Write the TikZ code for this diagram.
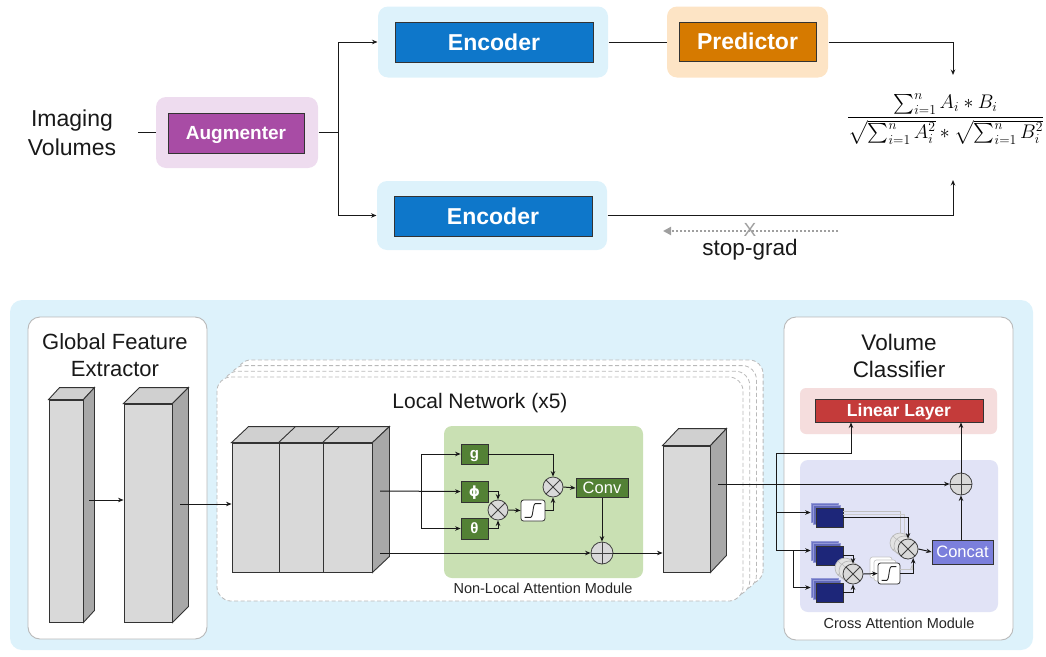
\documentclass[tikz,border=0pt]{standalone}
\usepackage{amsmath}
\usepackage{graphicx}
\usepackage[no-math]{fontspec}
\setmainfont{Liberation Sans}
\newfontfamily\dejavu{DejaVu Sans}
\usetikzlibrary{arrows.meta,calc}
\definecolor{panelblue}{HTML}{DDF2FB}
\definecolor{encblue}{HTML}{0E77CA}
\definecolor{auglight}{HTML}{EEDCEF}
\definecolor{augpurple}{HTML}{A84CA5}
\definecolor{predlight}{HTML}{FDE4C5}
\definecolor{predorange}{HTML}{D67A00}
\definecolor{nlgreen}{HTML}{C9E0B3}
\definecolor{dkgreen}{HTML}{538135}
\definecolor{linpink}{HTML}{F5DDDD}
\definecolor{linred}{HTML}{C43B3A}
\definecolor{calav}{HTML}{E1E3F6}
\definecolor{navy}{HTML}{1D2679}
\definecolor{navyshadow}{HTML}{6C74C6}
\definecolor{navyshadowb}{HTML}{9298D6}
\definecolor{concatblue}{HTML}{7B7FDC}
\definecolor{cubefill}{HTML}{D9D9D9}
\definecolor{cubetop}{HTML}{D0D0D0}
\definecolor{cubeside}{HTML}{A8A8A8}
\newcommand\cubefaces[3]{%
  \filldraw[fill=cubetop,draw=black!80,line width=0.9pt] (#1.north west) -- ++(#2,#3) -- ($(#1.north east)+(#2,#3)$) -- (#1.north east) -- cycle;
  \filldraw[fill=cubeside,draw=black!80,line width=0.9pt] (#1.north east) -- ++(#2,#3) -- ($(#1.south east)+(#2,#3)$) -- (#1.south east) -- cycle;}
\newcommand\cubetopface[3]{%
  \filldraw[fill=cubetop,draw=black!80,line width=0.9pt] (#1.north west) -- ++(#2,#3) -- ($(#1.north east)+(#2,#3)$) -- (#1.north east) -- cycle;}
\newcommand\sigcurve[1]{%
  \draw[line width=0.9pt,black!85] ($(#1.south west)+(4,-4)$) -- ($(#1.south)+(-2.5,-4)$) .. controls ($(#1.south)+(0.5,-4)$) and ($(#1.north)+(-0.5,4)$) .. ($(#1.north)+(2.5,4)$) -- ($(#1.north east)+(-4,4)$);}
\begin{document}
\begin{tikzpicture}[x=1pt,y=-1pt,line width=1pt,
  >={Stealth[length=5.5pt,width=4.5pt]},
  bgbox/.style={rounded corners=10pt,inner sep=0pt,draw=none},
  tbox/.style={draw=black!80,line width=0.9pt,text=white,inner sep=0pt,text height=16.5pt,text depth=0pt,font=\bfseries\fontsize{23}{27}\selectfont},
  panel/.style={draw=gray!55,fill=white,rounded corners=12pt,line width=0.9pt,inner sep=0pt},
  cubefront/.style={draw=black!80,fill=cubefill,inner sep=0pt,line width=0.9pt},
  gbox/.style={draw=black!80,fill=dkgreen,text=white,inner sep=0pt,minimum width=27pt,minimum height=20pt,text height=9pt,text depth=0pt,font=\bfseries\fontsize{15}{15}\selectfont,line width=0.8pt},
  qbox/.style={draw=black!80,fill=navy,inner sep=0pt,minimum width=27pt,minimum height=19pt,line width=0.8pt},
  qshadow/.style={draw=navyshadowb,fill=navyshadow,inner sep=0pt,minimum width=27pt,minimum height=19pt,line width=0.6pt},
  mul/.style={circle,draw=black!75,fill=gray!30,minimum size=20pt,inner sep=0pt,line width=0.8pt,
    path picture={\draw[line width=0.8pt,black!75] (path picture bounding box.north west) -- (path picture bounding box.south east) (path picture bounding box.south west) -- (path picture bounding box.north east);}},
  mulghost/.style={circle,draw=gray!55,fill=gray!22,minimum size=20pt,inner sep=0pt,line width=0.7pt,
    path picture={\draw[line width=0.7pt,gray!55] (path picture bounding box.north west) -- (path picture bounding box.south east) (path picture bounding box.south west) -- (path picture bounding box.north east);}},
  add/.style={circle,draw=black!75,fill=gray!30,minimum size=22pt,inner sep=0pt,line width=0.8pt,
    path picture={\draw[line width=0.8pt,black!75] (path picture bounding box.north) -- (path picture bounding box.south) (path picture bounding box.west) -- (path picture bounding box.east);}},
  sigbox/.style={draw=black!80,fill=white,rounded corners=2.5pt,inner sep=0pt,line width=0.8pt},
  sigghost/.style={draw=gray!45,fill=white,rounded corners=2.5pt,inner sep=0pt,line width=0.7pt},
  lbl/.style={font=\fontsize{22.5}{27}\selectfont,text=black!90,align=center},
  small/.style={font=\fontsize{14.5}{17}\selectfont,text=black!85,anchor=base},
  lnframe/.style={draw=gray!55,dash pattern=on 4pt off 2.5pt,fill=white,rounded corners=14pt,line width=0.8pt},
  conn/.style={line width=1pt,draw=black!90}]
\useasboundingbox (0,0) rectangle (1046,656);

% ---------------- top part ----------------
\node[lbl,font=\fontsize{23}{29}\selectfont] (imgvol) at (72,132.5) {Imaging\\Volumes};
\coordinate (ivout) at (138,132.5);
\node[bgbox,fill=auglight,minimum width=162pt,minimum height=71pt] (augbg) at (237,132.5) {};
\node[tbox,fill=augpurple,minimum width=136pt,minimum height=40pt,text height=13.7pt,font=\bfseries\fontsize{19}{22}\selectfont] (aug) at (236,133) {Augmenter};
\node[bgbox,fill=panelblue,minimum width=230pt,minimum height=71pt] (enc1bg) at (493,42) {};
\node[tbox,fill=encblue,minimum width=198pt,minimum height=40pt] (enc1) at (494,42) {Encoder};
\node[bgbox,fill=predlight,minimum width=161pt,minimum height=71pt] (predbg) at (747.5,42) {};
\node[tbox,fill=predorange,minimum width=137pt,minimum height=39pt] (pred) at (747.5,41.5) {Predictor};
\node[bgbox,fill=panelblue,minimum width=230pt,minimum height=69pt] (enc2bg) at (492,215.5) {};
\node[tbox,fill=encblue,minimum width=198pt,minimum height=40pt] (enc2) at (493,216) {Encoder};
\node[inner sep=0pt] (formula) at (945.5,119) {\scalebox{0.95}{\fontsize{20}{24}\selectfont$\dfrac{\sum_{i=1}^{n} A_i * B_i}{\sqrt{\sum_{i=1}^{n} A_i^2} * \sqrt{\sum_{i=1}^{n} B_i^2}}$}};
\coordinate (split) at (338,132.5);
\coordinate (fin1) at (953,75);
\coordinate (fin2) at (953,180);
\draw[conn] (ivout) -- (augbg.west);
\draw[conn] (augbg.east) -- (split);
\draw[conn,->] (split) |- (enc1bg.west);
\draw[conn,->] (split) |- (enc2bg.west);
\draw[conn] (enc1bg.east) -- (enc1bg.east -| predbg.west);
\draw[conn,->] (predbg.east) -| (fin1);
\draw[conn,->] (enc2bg.east) -| (fin2);
\coordinate (sgs) at (838,231);
\coordinate (sge) at (663,231);
\draw[gray!75,line width=2pt,dash pattern=on 2pt off 2pt,-{Triangle[length=8pt,width=8pt]}] (sgs) -- (sge);
\node[text=gray!75,font=\fontsize{19}{19}\selectfont,inner sep=0pt] (sgx) at (750,230) {X};
\node[lbl,anchor=base,font=\fontsize{22.5}{27}\selectfont] (sglbl) at (750,255) {stop-grad};

% ---------------- bottom panel ----------------
\fill[panelblue,rounded corners=12pt] (10,300) rectangle (1033,650);

% Global feature extractor
\node[panel,minimum width=179pt,minimum height=322pt] (gfe) at (117.5,478) {};
\node[lbl,font=\fontsize{22}{27}\selectfont] (gfet) at (115,355) {Global Feature\\Extractor};
\node[cubefront,minimum width=34pt,minimum height=222pt] (col1) at (66,511) {};
\cubefaces{col1}{11}{-12}
\node[cubefront,minimum width=48pt,minimum height=218pt] (col2) at (148,513) {};
\cubefaces{col2}{16}{-16}
\coordinate (c1o) at (89,500);
\coordinate (c2o) at (180,504);
\draw[conn,->] (c1o) -- (c1o -| col2.west);

% Local network frames
\foreach \k in {3,2,1}{
  \draw[lnframe,shift={(\k*6.7,-\k*5.7)}] (217,377) rectangle (743,601);
}
\draw[lnframe] (217,377) rectangle (743,601);
\node[lbl,anchor=base,font=\fontsize{21}{25}\selectfont] (lnt) at (480,408) {Local Network (x5)};

% stack of three blocks
\node[cubefront,minimum width=47pt,minimum height=129pt] (s1) at (255.5,507.5) {};
\node[cubefront,minimum width=44pt,minimum height=129pt] (s2) at (301,507.5) {};
\node[cubefront,minimum width=49pt,minimum height=129pt] (s3) at (347.5,507.5) {};
\cubetopface{s1}{17}{-16}
\cubetopface{s2}{17}{-16}
\cubefaces{s3}{17}{-16}
\draw[conn,->] (c2o) -- (c2o -| s1.west);

% non-local attention module
\node[bgbox,rounded corners=8pt,fill=nlgreen,minimum width=199pt,minimum height=152pt] (nlbg) at (543.5,502) {};
\node[small] (nlt) at (543,593) {Non-Local Attention Module};
\node[gbox,text height=8pt] (gg) at (474.5,454) {g};
\node[gbox,minimum height=21pt,text height=10.5pt,font=\bfseries\fontsize{14}{14}\selectfont\dejavu] (gphi) at (474.5,491.5) {ϕ};
\node[gbox,minimum height=21pt,text height=10.8pt] (gtheta) at (474.5,528.5) {θ};
\node[mul] (m1) at (498,510) {};
\node[sigbox,minimum width=24pt,minimum height=21pt] (sig1) at (533,510.5) {};
\sigcurve{sig1}
\node[mul] (m2) at (553,487) {};
\node[draw=black!80,fill=dkgreen,text=white,inner sep=0pt,minimum width=52pt,minimum height=19pt,text height=11.9pt,text depth=0pt,font=\fontsize{16.5}{17}\selectfont,line width=0.8pt] (conv) at (602,488) {Conv};
\node[add] (p1) at (602,553) {};
\coordinate (s3o1) at (380,491);
\coordinate (s3o2) at (380,553);
\coordinate (nlv) at (421,491);
\draw[conn,->] (s3o1) -- (gphi.west);
\draw[conn,->] (nlv) |- (gg.west);
\draw[conn,->] (nlv) |- (gtheta.west);
\draw[conn,->] (gg.east) -| (m2.north);
\draw[conn,->] (gphi.east) -| (m1.north);
\draw[conn,->] (gtheta.east) -| (m1.south);
\draw[conn,->] (m1.east) -- (sig1.west);
\draw[conn,->] (sig1.east) -| (m2.south);
\draw[conn,->] (m2.east) -- (conv.west);
\draw[conn,->] (conv.south) -- (p1.north);
\draw[conn,->] (s3o2) -- (p1.west);

% second block
\node[cubefront,minimum width=47pt,minimum height=126pt] (cub2) at (686.5,509) {};
\cubefaces{cub2}{16}{-17}
\draw[conn,->] (p1.east) -- (p1.east -| cub2.west);
\coordinate (cub2o) at (718,484);

% Volume classifier
\node[panel,minimum width=229pt,minimum height=323pt] (vc) at (898.5,478.5) {};
\node[lbl] (vct) at (899,355.5) {Volume\\Classifier};
\node[bgbox,rounded corners=6pt,fill=linpink,minimum width=197pt,minimum height=46pt] (linbg) at (898.5,411) {};
\node[tbox,fill=linred,minimum width=168pt,minimum height=23pt,text height=12.6pt,font=\bfseries\fontsize{17.5}{20}\selectfont] (lin) at (899,410.5) {Linear Layer};
\node[bgbox,rounded corners=8pt,fill=calav,minimum width=198pt,minimum height=152pt] (cabg) at (899,536) {};
\node[small] (cat) at (899,628) {Cross Attention Module};
\node[add] (p2) at (961,484) {};
\node[draw=black!80,fill=concatblue,text=white,inner sep=0pt,minimum width=61pt,minimum height=24pt,text height=11.9pt,text depth=0pt,font=\fontsize{16.5}{18}\selectfont,line width=0.8pt] (concat) at (962.5,552) {Concat};
% shadows of query/key/value boxes
\node[qshadow] (q1s) at (824.5,512.5) {};
\node[qshadow,fill=navyshadow!85!navy] (q1m) at (827,515) {};
\node[qbox] (q1) at (829.5,517.5) {};
\node[qshadow] (q2s) at (824.5,550.5) {};
\node[qshadow,fill=navyshadow!85!navy] (q2m) at (827,553) {};
\node[qbox] (q2) at (829.5,555.5) {};
\node[qshadow] (q3s) at (824.5,587.5) {};
\node[qshadow,fill=navyshadow!85!navy] (q3m) at (827,590) {};
\node[qbox] (q3) at (829.5,592.5) {};
% ghosts
\node[mulghost] (mAg2) at (845,568) {};
\node[mulghost] (mAg1) at (849,571) {};
\node[mul] (mA) at (853,574) {};
\node[sigghost,minimum width=22pt,minimum height=21pt] (sigg2) at (881,567.5) {};
\node[sigghost,minimum width=22pt,minimum height=21pt] (sigg1) at (885,570.5) {};
\node[sigbox,minimum width=22pt,minimum height=21pt] (sig2) at (889,573.5) {};
\sigcurve{sig2}
\node[mulghost] (mBg2) at (900,543) {};
\node[mulghost] (mBg1) at (904,546) {};
\node[mul] (mB) at (908,549) {};
\draw[gray!50,line width=1pt] ($(q1.east)+(0,-6)$) -| (mBg2.north);
\draw[gray!40,line width=1pt] ($(q1.east)+(0,-3)$) -| (mBg1.north);
\draw[gray!45,line width=1pt,->] ($(sig2.east)+(0,-4)$) -| ($(mB.-60)+(-1,6)$);
\draw[conn,->] (q1.east) -| (mB.north);
\draw[conn,->] (q2.east) -| (mA.north);
\draw[conn,->] (q3.east) -| (mA.south);
\draw[conn,->] (mA.east) -- (sig2.west);
\draw[conn,->] (sig2.east) -| (mB.-60);
\draw[conn,->] (mB.east) -- (concat.west);
\draw[conn,->] (concat.north -| p2.south) -- (p2.south);
\draw[conn,->] (p2.north) -- (p2.north |- lin.south);
% inputs from local network
\coordinate (vt) at (776,453);
\coordinate (linx) at (851,0);
\coordinate (vj) at (793,0);
\draw[conn,->] (cub2o) -- (p2.west);
\draw[conn,->] (vt) -| (lin.south -| linx);
\draw[conn] (vt) -- (vt |- q2s.west);
\draw[conn,->] (vt |- q1s.west) -- (q1s.west);
\draw[conn,->] (vt |- q2s.west) -- (q2s.west);
\draw[conn,->] (vj |- q2s.west) |- (q3s.west);
\end{tikzpicture}
\end{document}
